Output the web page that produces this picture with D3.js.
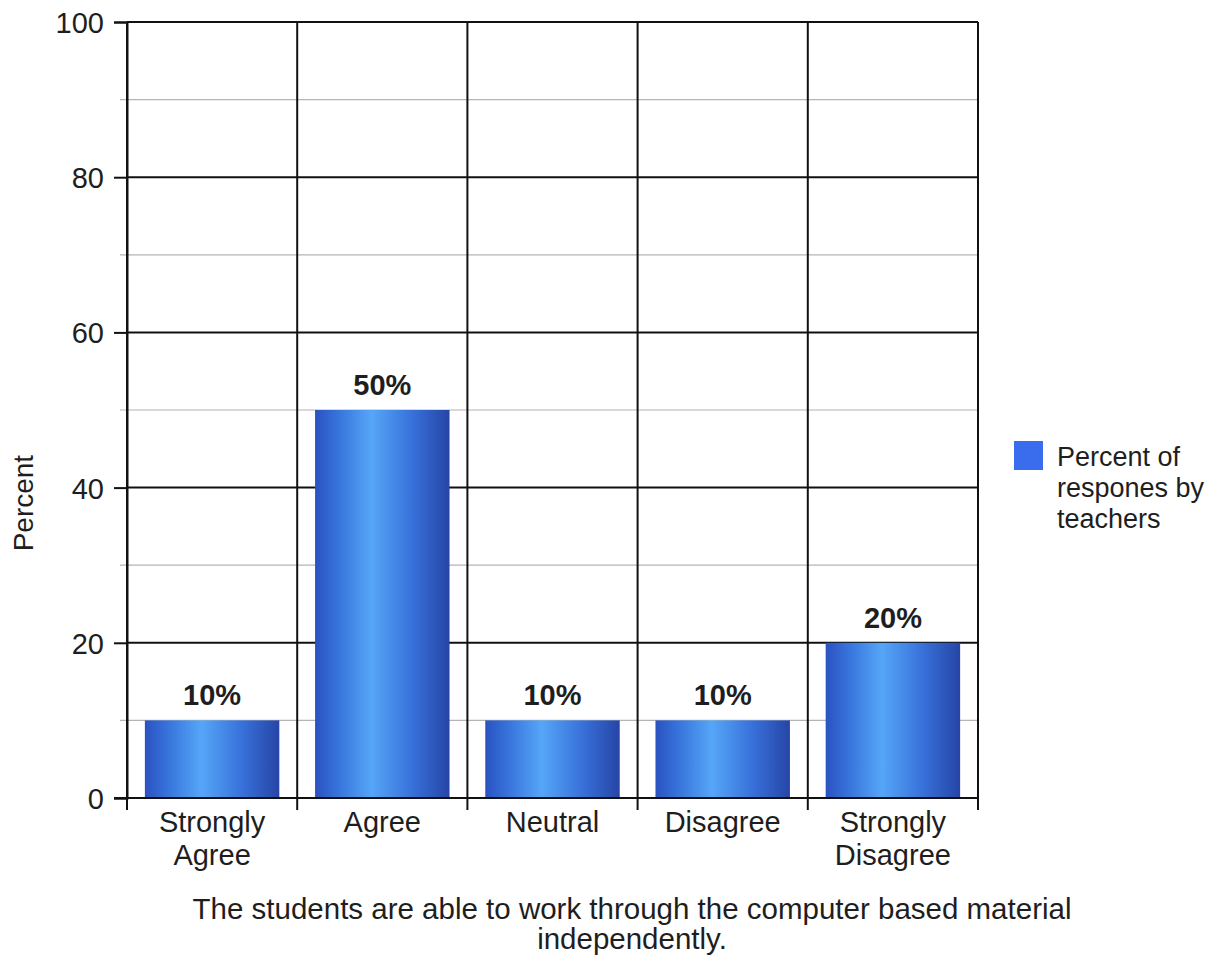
<!DOCTYPE html>
<html>
<head>
<meta charset="utf-8">
<script src="https://cdn.jsdelivr.net/npm/d3@7"></script>
<style>
  body { margin: 0; background: #fff; }
  text { font-family: "Liberation Sans", Arial, sans-serif; fill: #1e1e1e; }
</style>
</head>
<body>
<div id="chart"></div>
<script>
// chart data
var categories = ["Strongly Agree", "Agree", "Neutral", "Disagree", "Strongly Disagree"];
var percents = [10, 50, 10, 10, 20];
var yTicks = [0, 20, 40, 60, 80, 100];
var minorTicks = [10, 30, 50, 70, 90];
var seriesName = ["Percent of", "respones by", "teachers"];
var titleLines = ["The students are able to work through the computer based material", "independently."];

var data = categories.map(function(c, i) { return {cat: c, value: percents[i]}; });

// dimensions
var margin = {top: 22, right: 245, bottom: 162, left: 127},
    width = 1223 - margin.left - margin.right,
    height = 960 - margin.top - margin.bottom;

var svg = d3.select("#chart")
  .append("svg")
  .attr("width", 1223)
  .attr("height", 960);

var defs = svg.append("defs");
var grad = defs.append("linearGradient")
  .attr("id", "barGrad")
  .attr("x1", "0%").attr("x2", "100%").attr("y1", "0%").attr("y2", "0%");
[["0%", "#2a52c0"], ["18%", "#3875dc"], ["42%", "#55a6f8"], ["72%", "#3871da"], ["100%", "#2645a6"]]
  .forEach(function(s) { grad.append("stop").attr("offset", s[0]).attr("stop-color", s[1]); });

var g = svg.append("g")
  .attr("transform", "translate(" + margin.left + "," + margin.top + ")");

// scales
var x = d3.scaleBand()
  .domain(categories)
  .range([0, width])
  .paddingInner(0.21)
  .paddingOuter(0.105);

var y = d3.scaleLinear()
  .domain([0, 100])
  .range([height, 0]);

// minor gridlines (gray)
g.selectAll("line.minor")
  .data(minorTicks)
  .enter().append("line")
    .attr("x1", -7).attr("x2", width)
    .attr("y1", function(d) { return y(d); })
    .attr("y2", function(d) { return y(d); })
    .attr("stroke", "#b4b4b4")
    .attr("stroke-width", 1.2);

// major gridlines (black)
g.selectAll("line.major")
  .data(yTicks.slice(1))
  .enter().append("line")
    .attr("x1", 0).attr("x2", width)
    .attr("y1", function(d) { return y(d); })
    .attr("y2", function(d) { return y(d); })
    .attr("stroke", "#111")
    .attr("stroke-width", 2);

// vertical category dividers
var gap = (x.step() - x.bandwidth()) / 2;
var bounds = categories.map(function(c) { return x(c) - gap; }).concat([width]);
g.selectAll("line.vdiv")
  .data(bounds)
  .enter().append("line")
    .attr("x1", function(d) { return d; })
    .attr("x2", function(d) { return d; })
    .attr("y1", 0)
    .attr("y2", height + 12)
    .attr("stroke", "#111")
    .attr("stroke-width", 2);

// bars
g.selectAll("rect.bar")
  .data(data)
  .enter().append("rect")
    .attr("x", function(d) { return x(d.cat); })
    .attr("y", function(d) { return y(d.value); })
    .attr("width", x.bandwidth())
    .attr("height", function(d) { return height - y(d.value); })
    .attr("fill", "url(#barGrad)");

// value labels
g.selectAll("text.val")
  .data(data)
  .enter().append("text")
    .attr("x", function(d) { return x(d.cat) + x.bandwidth() / 2; })
    .attr("y", function(d) { return y(d.value) - 15; })
    .attr("text-anchor", "middle")
    .style("font-size", "29px")
    .style("font-weight", "bold")
    .text(function(d) { return d.value + "%"; });

// Y axis
var yAxis = g.append("g")
  .call(d3.axisLeft(y).tickValues(yTicks).tickSize(13).tickPadding(10));
yAxis.select(".domain").attr("stroke", "#111").attr("stroke-width", 2);
yAxis.selectAll(".tick line").attr("stroke", "#111").attr("stroke-width", 2);
yAxis.selectAll("text")
  .style("font-size", "29px")
  .style("font-family", "'Liberation Sans', Arial, sans-serif")
  .attr("fill", "#1e1e1e")
  .attr("dy", "0.36em");

// X axis line
g.append("line")
  .attr("x1", -13).attr("x2", width)
  .attr("y1", height).attr("y2", height)
  .attr("stroke", "#111")
  .attr("stroke-width", 2);

// category labels (wrapped on space)
g.selectAll("text.cat")
  .data(categories)
  .enter().append("text")
    .attr("x", function(d) { return x(d) + x.bandwidth() / 2; })
    .attr("y", height + 34)
    .attr("text-anchor", "middle")
    .style("font-size", "29px")
    .each(function(d) {
      var t = d3.select(this);
      d.split(" ").forEach(function(w, i) {
        t.append("tspan")
          .attr("x", x(d) + x.bandwidth() / 2)
          .attr("dy", i === 0 ? 0 : 33)
          .text(w);
      });
    });

// Y axis label
svg.append("text")
  .attr("transform", "translate(33," + (margin.top + height * 0.62) + ")rotate(-90)")
  .attr("text-anchor", "middle")
  .style("font-size", "28px")
  .text("Percent");

// title below chart
svg.selectAll("text.title")
  .data(titleLines)
  .enter().append("text")
    .attr("x", 632)
    .attr("y", function(d, i) { return 919 + i * 30; })
    .attr("text-anchor", "middle")
    .style("font-size", "29.5px")
    .text(function(d) { return d; });

// legend
var legend = svg.append("g")
  .attr("transform", "translate(1014,441)");
legend.append("rect")
  .attr("width", 29).attr("height", 29)
  .attr("fill", "#3a6cee");
legend.selectAll("text")
  .data(seriesName)
  .enter().append("text")
    .attr("x", 43)
    .attr("y", function(d, i) { return 25 + i * 31; })
    .style("font-size", "27px")
    .text(function(d) { return d; });
</script>
</body>
</html>
